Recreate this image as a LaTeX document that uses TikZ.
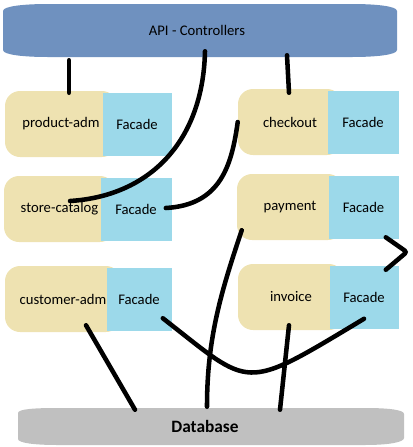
\documentclass[tikz,border=0pt]{standalone}
\usepackage{fontspec}
\setmainfont{Carlito}
\usetikzlibrary{positioning,calc}
\definecolor{apiblue}{RGB}{111,145,191}
\definecolor{modbeige}{RGB}{238,226,177}
\definecolor{facblue}{RGB}{156,217,234}
\definecolor{dbgray}{RGB}{192,192,192}

\begin{document}
\begin{tikzpicture}[x=0.75pt,y=-0.75pt,font=\fontsize{11}{13}\selectfont,
	module/.style={fill=modbeige,rounded corners=11.25pt,minimum width=#1,minimum height=49.5pt,inner sep=0pt},
	module/.default=84pt,
	facade/.style={fill=facblue,minimum width=#1,minimum height=47.25pt,inner sep=0pt},
	facade/.default=52pt,
	link/.style={line width=3.4pt,line cap=round}]
		\useasboundingbox (0,0) rectangle (413,447);
		% layer shapes
		\fill[apiblue] (3,11) .. controls (3,6) and (25,4) .. (48,4) -- (352,4) .. controls (375,4) and (397,6) .. (397,11)
			-- (397,50) .. controls (397,55) and (375,57) .. (352,57) -- (48,57) .. controls (25,57) and (3,55) .. (3,50) -- cycle;
		\fill[dbgray] (18,413) .. controls (18,409) and (35,408) .. (57,408) -- (365,408) .. controls (390,408) and (404,410) .. (404,414)
			-- (404,438) .. controls (404,442) and (390,445) .. (365,445) -- (57,445) .. controls (35,445) and (18,443) .. (18,439) -- cycle;
		\node[minimum height=39.75pt] (api) at (197,30.5) {API - Controllers};
		\node[font=\fontsize{13}{15}\selectfont\bfseries,minimum height=27.75pt] (db) at (205,426.5) {Database};
		% modules
		\node[module=84pt] (prod_adm) at (61,124) {product-adm};
		\node[facade=51.75pt] (prod_f) [right=-11.25pt of prod_adm] {Facade};
		\node[module=83.25pt] (store_cat) at (59.5,209) {store-catalog};
		\node[facade=53.25pt] (store_f) [right=-11.25pt of store_cat] {Facade};
		\node[module=87pt] (cust_adm) at (63,299) {customer-adm};
		\node[facade=48.75pt] (cust_f) [right=-11.25pt of cust_adm] {Facade};
		\node[module=78pt] (checkout) at (290,122) {checkout};
		\node[facade=53.25pt] (check_f) [right=-11.25pt of checkout] {Facade};
		\node[module=79.5pt] (payment) at (290,207) {payment};
		\node[facade=52.5pt] (pay_f) [right=-11.25pt of payment] {Facade};
		\node[module=79.5pt] (invoice) at (291,297) {invoice};
		\node[facade=51.75pt] (inv_f) [right=-11.25pt of invoice] {Facade};
		% links
		\path[link] ([xshift=6pt,yshift=-1.5pt]prod_adm.north) edge ([xshift=6pt,yshift=-2.25pt]prod_adm.north |- api.south)
			([xshift=-0.75pt,yshift=-3pt]checkout.north) edge ([xshift=-2.25pt,yshift=1.5pt]checkout.north |- api.south)
			([xshift=17.25pt,yshift=5.25pt]cust_adm.south) edge ([xshift=-52.5pt,yshift=-1.5pt]db.north)
			([xshift=-1.5pt,yshift=3.75pt]invoice.south) edge ([xshift=56.25pt,yshift=-1.5pt]db.north);
		\draw[link] ([xshift=6pt,yshift=4.5pt]api.south) .. controls +(-2,90) and +(80,-5) .. ([xshift=7.9pt,yshift=6pt]store_cat.center);
		\draw[link] ([xshift=-4.5pt,yshift=0.75pt]store_f.east) .. controls +(55,-3) and +(-6,43) .. (checkout.west);
		\draw[link] ([xshift=3.75pt,yshift=7.5pt]payment.south west) .. controls +(-20,60) and +(0,-70) .. ([xshift=1.5pt,yshift=0.75pt]db.north);
		\draw[link,rounded corners=2pt] ([xshift=-9.75pt,yshift=1.1pt]pay_f.south east)
			-- ($(pay_f.south east)!0.5!(inv_f.north east)+(8,0)$) -- ([xshift=-9.75pt,yshift=-3.4pt]inv_f.north east);
		\draw[link] ([xshift=-6.75pt,yshift=9.4pt]cust_f.south east) .. controls +(90,70) and +(-123,74) .. ([yshift=7.5pt]inv_f.south);
	\end{tikzpicture}
\end{document}
